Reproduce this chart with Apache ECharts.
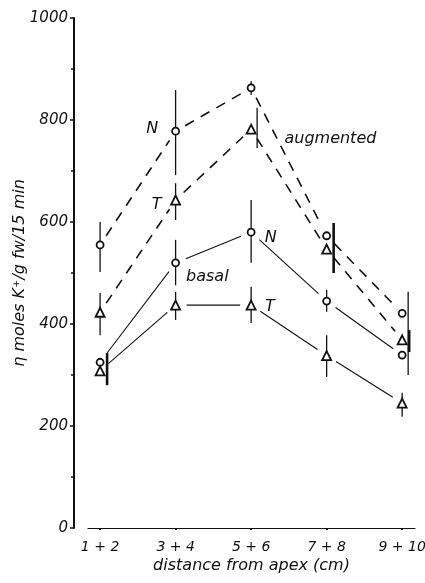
<!DOCTYPE html>
<html>
<head>
<meta charset="utf-8">
<script src="https://cdn.jsdelivr.net/npm/echarts@6/dist/echarts.min.js"></script>
<style>
  html, body { margin: 0; padding: 0; background: #fff; }
  #chart { width: 425px; height: 583px; }
</style>
</head>
<body>
<div id="chart"></div>
<script>
var categories = ['1 + 2', '3 + 4', '5 + 6', '7 + 8', '9 + 10'];
var yTicks = [0, 200, 400, 600, 800, 1000];

// K+ uptake, nmoles / g fw / 15 min
var nAugmented = [555, 778, 863, 573, 421];
var tAugmented = [423, 643, 782, 547, 369];
var nBasal = [325, 520, 580, 445, 339];
var tBasal = [308, 437, 437, 338, 245];

// error bars drawn through the marker: [low, high]
var nAugErr = [[502, 600], [692, 859], [849, 876], null, null];
var tAugErr = [[378, 461], [604, 676], null, null, null];
var nBasalErr = [null, [476, 565], [520, 643], [424, 467], null];
var tBasalErr = [null, [408, 463], [402, 473], [296, 378], [218, 265]];

// error bars drawn beside the markers: [category index (0-based), low, high]
var sideThin = [[2, 745, 824], [4, 300, 463]];
var sideThick = [[0, 280, 343], [4, 345, 388], [3, 500, 598]];

var notes = [
  { text: 'N', x: 1.69, y: 782 },
  { text: 'T', x: 1.75, y: 633 },
  { text: 'augmented', x: 4.05, y: 763 },
  { text: 'N', x: 3.26, y: 569 },
  { text: 'basal', x: 2.42, y: 492 },
  { text: 'T', x: 3.25, y: 433 }
];

var INK = '#111';
var FONT = 'DejaVu Sans';

var chart = echarts.init(document.getElementById('chart'));

function segments(vals, dashed) {
  var data = [];
  for (var i = 0; i < vals.length - 1; i++) {
    data.push([i + 1, vals[i], i + 2, vals[i + 1]]);
  }
  return {
    type: 'custom',
    silent: true,
    data: data,
    encode: { x: [0, 2], y: [1, 3] },
    renderItem: function (params, api) {
      var a = api.coord([api.value(0), api.value(1)]);
      var b = api.coord([api.value(2), api.value(3)]);
      var dx = b[0] - a[0], dy = b[1] - a[1];
      var len = Math.sqrt(dx * dx + dy * dy);
      var gap = 11;
      var ux = dx / len, uy = dy / len;
      return {
        type: 'line',
        shape: {
          x1: a[0] + ux * gap, y1: a[1] + uy * gap,
          x2: b[0] - ux * gap, y2: b[1] - uy * gap
        },
        style: {
          stroke: INK,
          lineWidth: dashed ? 1.6 : 1.1,
          lineDash: dashed ? [10, 8] : null
        }
      };
    }
  };
}

function errBars(errs) {
  var data = [];
  errs.forEach(function (e, i) {
    if (e) data.push([i + 1, e[0], e[1]]);
  });
  return {
    type: 'custom',
    silent: true,
    data: data,
    encode: { x: 0, y: [1, 2] },
    renderItem: function (params, api) {
      var lo = api.coord([api.value(0), api.value(1)]);
      var hi = api.coord([api.value(0), api.value(2)]);
      return {
        type: 'line',
        shape: { x1: lo[0], y1: lo[1], x2: hi[0], y2: hi[1] },
        style: { stroke: INK, lineWidth: 1.3 }
      };
    }
  };
}

function sideBars(list, width, dxPx) {
  return {
    type: 'custom',
    silent: true,
    data: list.map(function (s) { return [s[0] + 1, s[1], s[2]]; }),
    encode: { x: 0, y: [1, 2] },
    renderItem: function (params, api) {
      var lo = api.coord([api.value(0), api.value(1)]);
      var hi = api.coord([api.value(0), api.value(2)]);
      return {
        type: 'line',
        shape: { x1: lo[0] + dxPx, y1: lo[1], x2: hi[0] + dxPx, y2: hi[1] },
        style: { stroke: INK, lineWidth: width }
      };
    }
  };
}

function markers(vals, symbol, size) {
  return {
    type: 'scatter',
    symbol: symbol,
    symbolSize: size,
    z: 5,
    data: vals.map(function (v, i) { return [i + 1, v]; }),
    itemStyle: { color: '#fff', borderColor: INK, borderWidth: 1.8, opacity: 1 }
  };
}

var option = {
  backgroundColor: '#fff',
  animation: false,
  grid: { left: 88, right: 10, top: 18, bottom: 55, outerBoundsMode: 'none' },
  xAxis: {
    type: 'value',
    min: 0.84,
    max: 5.17,
    name: 'distance from apex (cm)',
    nameLocation: 'middle',
    nameGap: 30,
    nameMoveOverlap: false,
    nameTextStyle: { fontFamily: FONT, fontStyle: 'italic', fontSize: 16, color: INK },
    axisLine: { lineStyle: { color: INK, width: 1.2 } },
    axisTick: { customValues: [1, 2, 3, 4, 5], length: 2, lineStyle: { color: INK, width: 2 } },
    axisLabel: {
      customValues: [1, 2, 3, 4, 5],
      formatter: function (v) { return categories[Math.round(v) - 1]; },
      fontFamily: FONT, fontStyle: 'italic', fontSize: 14, color: INK, margin: 12
    },
    splitLine: { show: false }
  },
  yAxis: {
    type: 'value',
    min: yTicks[0],
    max: yTicks[yTicks.length - 1],
    interval: 200,
    offset: 14,
    name: 'η moles K⁺/g fw/15 min',
    nameLocation: 'middle',
    nameGap: 46,
    nameMoveOverlap: false,
    nameTextStyle: { fontFamily: FONT, fontStyle: 'italic', fontSize: 16, color: INK },
    axisLine: { show: true, lineStyle: { color: INK, width: 2 } },
    axisTick: { show: true, length: 4, lineStyle: { color: INK, width: 1.5 } },
    minorTick: { show: true, splitNumber: 2, length: 3, lineStyle: { color: INK, width: 1.5 } },
    axisLabel: {
      formatter: function (v) { return String(v); },
      fontFamily: FONT, fontStyle: 'italic', fontSize: 15, color: INK, margin: 6
    },
    splitLine: { show: false }
  },
  series: [
    segments(nAugmented, true),
    segments(tAugmented, true),
    segments(nBasal, false),
    segments(tBasal, false),
    errBars(nAugErr),
    errBars(tAugErr),
    errBars(nBasalErr),
    errBars(tBasalErr),
    sideBars(sideThin, 1.3, 6),
    sideBars(sideThick, 2.6, 7),
    markers(nAugmented, 'circle', 7),
    markers(tAugmented, 'triangle', 9),
    markers(nBasal, 'circle', 7),
    markers(tBasal, 'triangle', 9),
    {
      type: 'scatter',
      silent: true,
      symbolSize: 0,
      itemStyle: { opacity: 1 },
      data: notes.map(function (n) { return { value: [n.x, n.y], name: n.text }; }),
      label: {
        show: true,
        position: 'inside',
        formatter: '{b}',
        fontFamily: FONT,
        fontStyle: 'italic',
        fontSize: 16,
        color: INK
      }
    }
  ]
};

chart.setOption(option);
</script>
</body>
</html>
